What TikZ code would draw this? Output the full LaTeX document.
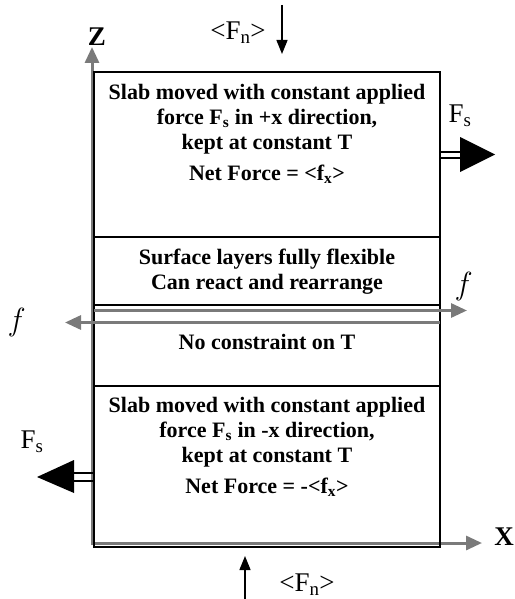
\documentclass[tikz,border=0pt]{standalone}
\usepackage{fontspec}
\setmainfont{Liberation Serif}
\newfontfamily\lmital{Latin Modern Roman}
\usetikzlibrary{arrows.meta}
\definecolor{gr}{HTML}{7A7A7A}
\tikzset{
  slab/.style={draw=black, line width=1.6pt, minimum width=346pt, inner sep=0pt, outer sep=0pt, anchor=north west},
  lbl/.style={font=\fontsize{22}{25}\selectfont\bfseries, align=center, inner sep=0pt},
  plain/.style={font=\fontsize{27}{29}\selectfont, inner sep=0pt},
  axis/.style={font=\fontsize{27}{29}\selectfont\bfseries, inner sep=0pt},
  flbl/.style={font=\lmital\fontsize{32}{34}\selectfont\itshape, inner sep=0pt},
  gline/.style={draw=gr, line width=3pt},
  gtip/.style={-{Triangle[length=16pt,width=14pt]}},
  ntip/.style={draw=black, line width=1.4pt, -{Triangle[length=14pt,width=11pt]}},
  shaft/.style={draw=black, line width=2pt},
  fathead/.style={fill=black}
}
\begin{document}
\begin{tikzpicture}[x=1pt,y=-1pt]
\useasboundingbox (0,0) rectangle (514,599);
% axes
\coordinate (zbot) at (92,545);
\coordinate (ztop) at (92,47);
\coordinate (xend) at (482,543);
\draw[gline,gtip] (zbot) -- (ztop);
\draw[gline,gtip] (92,543) -- (xend);
\node[axis] (zl) at (97,37) {Z};
\node[axis] (xl) at (504,537) {X};
% slabs
\node[slab, minimum height=165pt] (top) at (94,72) {};
\node[slab, minimum height=68pt] (surf) at (top.south west) {};
\node[slab, minimum height=81pt] (mid) at (surf.south west) {};
\node[slab, minimum height=161pt] (bot) at (mid.south west) {};
% texts
\node[lbl, anchor=north] (toptext) at (267,84) {Slab moved with constant applied\\force F\textsubscript{s} in +x direction,\\kept at constant T\\[6pt]Net Force = <f\textsubscript{x}>};
\node[lbl, anchor=north] (surftext) at (267,249) {Surface layers fully flexible\\Can react and rearrange};
\node[lbl, anchor=north] (midtext) at (267,334) {No constraint on T};
\node[lbl, anchor=north] (bottext) at (267,397) {Slab moved with constant applied\\force F\textsubscript{s} in -x direction,\\kept at constant T\\[6pt]Net Force = -<f\textsubscript{x}>};
% gray friction lines
\coordinate (fRtip) at (467,310.5);
\coordinate (fLtip) at (65,322.5);
\draw[gline,gtip] ([yshift=-5.5pt]surf.south west) -- (fRtip);
\draw[gline,gtip] ([yshift=-17.5pt]surf.south east) -- (fLtip);
\node[flbl] (fR) at (462,286) {f};
\node[flbl] (fL) at (15,322) {f};
% normal forces
\coordinate (nTs) at (282,5);
\coordinate (nTe) at (282,54);
\draw[ntip] (nTs) -- (nTe);
\node[plain] (nTl) at (238,33) {<F\textsubscript{n}>};
\coordinate (nBs) at (245,599);
\coordinate (nBe) at (245,556);
\draw[ntip] (nBs) -- (nBe);
\node[plain] (nBl) at (307,585) {<F\textsubscript{n}>};
% applied forces, top (+x)
\coordinate (hT) at (460,154.5);
\draw[shaft] ([yshift=3pt]top.east |- hT) -- ([yshift=3pt]hT);
\draw[shaft] ([yshift=-3pt]top.east |- hT) -- ([yshift=-3pt]hT);
\fill[fathead] (460,137) -- (495,154.5) -- (460,172) -- cycle;
\node[plain] (FsT) at (460,116) {F\textsubscript{s}};
% applied forces, bottom (-x)
\coordinate (hB) at (73,477);
\draw[shaft] ([yshift=4pt]bot.west |- hB) -- ([yshift=4pt]hB);
\draw[shaft] ([yshift=-4pt]bot.west |- hB) -- ([yshift=-4pt]hB);
\fill[fathead] (74,460) -- (37,477) -- (74,493) -- cycle;
\node[plain] (FsB) at (32,442) {F\textsubscript{s}};
\end{tikzpicture}
\end{document}
